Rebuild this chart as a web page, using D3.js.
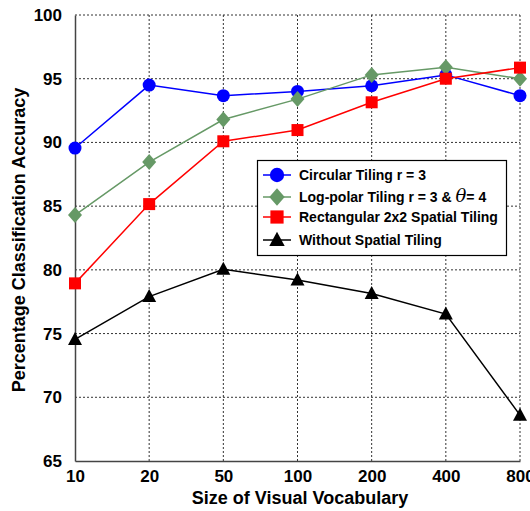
<!DOCTYPE html>
<html><head><meta charset="utf-8">
<script src="https://cdn.jsdelivr.net/npm/d3@7"></script>
<style>body{margin:0;background:#fff}text{font-family:"Liberation Sans",Arial,sans-serif;font-weight:bold}</style>
</head><body><svg id="c" width="530" height="511"></svg>
<script>
const categories = ["10","20","50","100","200","400","800"];
const yTicks = [65,70,75,80,85,90,95,100];
const circular = [89.56,94.5,93.67,94.0,94.45,95.3,93.67];
const logpolar = [84.3,88.46,91.8,93.4,95.3,95.9,95.0];
const rectangular = [78.94,85.16,90.09,90.97,93.15,95.0,95.87];
const without = [74.54,77.9,80.04,79.2,78.15,76.53,68.6];
const seriesNames = ["Circular Tiling r = 3","Log-polar Tiling r = 3 & ","Rectangular 2x2 Spatial Tiling","Without Spatial Tiling"];

const svg = d3.select("#c");
const L=75,R=520,T=15,B=461;
const x = d3.scalePoint().domain(categories).range([L,R]);
const y = d3.scaleLinear().domain([65,100]).range([B,T]);

// grid
const g = svg.append("g");
g.selectAll(".hg").data(yTicks.filter(d=>d>65)).join("line")
 .attr("x1",L).attr("x2",R).attr("y1",d=>y(d)).attr("y2",d=>y(d))
 .attr("stroke","#333").attr("stroke-width",1).attr("stroke-dasharray","2,2");
g.selectAll(".vg").data(categories.slice(1)).join("line")
 .attr("x1",d=>x(d)).attr("x2",d=>x(d)).attr("y1",T).attr("y2",B)
 .attr("stroke","#333").attr("stroke-width",1).attr("stroke-dasharray","2,2");

// axes
const xa = svg.append("g").attr("transform",`translate(0,${B})`).call(d3.axisBottom(x).tickSize(0).tickPadding(10));
xa.select(".domain").attr("stroke","#444").attr("stroke-width",1.5);
xa.selectAll("text").attr("font-size",17).attr("fill","#000").attr("dy","0.71em").attr("y",9);
const ya = svg.append("g").attr("transform",`translate(${L},0)`).call(d3.axisLeft(y).tickValues(yTicks).tickSize(0).tickPadding(13));
ya.select(".domain").attr("stroke","#444").attr("stroke-width",1.5);
ya.selectAll("text").attr("font-size",17).attr("fill","#000");

svg.append("text").attr("x",300).attr("y",504).attr("text-anchor","middle").attr("font-size",18).text("Size of Visual Vocabulary");
svg.append("text").attr("transform","translate(25,240) rotate(-90)").attr("text-anchor","middle").attr("font-size",18).text("Percentage Classification Accuracy");

const series = [
 {name:seriesNames[0],vals:circular,color:"#0000ff",shape:"circle"},
 {name:seriesNames[1],vals:logpolar,color:"#669966",shape:"diamond"},
 {name:seriesNames[2],vals:rectangular,color:"#ff0000",shape:"square"},
 {name:seriesNames[3],vals:without,color:"#000000",shape:"triangle"}
];
function marker(sel,shape,color,s){
 if(shape==="circle") sel.append("circle").attr("r",6.5*s).attr("fill",color);
 else if(shape==="diamond") sel.append("path").attr("d",`M0,${-8*s}L${7*s},0L0,${8*s}L${-7*s},0Z`).attr("fill",color);
 else if(shape==="square") sel.append("rect").attr("x",-6*s).attr("y",-6*s).attr("width",12*s).attr("height",12*s).attr("fill",color);
 else sel.append("path").attr("d",`M0,${-7.5*s}L${7*s},${5.5*s}L${-7*s},${5.5*s}Z`).attr("fill",color);
}
const line = d3.line().x((d,i)=>x(categories[i])).y(d=>y(d));
series.forEach(s=>{
 svg.append("path").attr("d",line(s.vals)).attr("fill","none").attr("stroke",s.color).attr("stroke-width",1.5);
 s.vals.forEach((v,i)=>{
  const m = svg.append("g").attr("transform",`translate(${x(categories[i])},${y(v)})`);
  marker(m,s.shape,s.color,1);
 });
});

// legend
const lg = svg.append("g");
lg.append("rect").attr("x",257.5).attr("y",160.5).attr("width",249).attr("height",95).attr("fill","#fff").attr("stroke","#000").attr("stroke-width",1.2);
const rows=[175,197,217,240];
series.forEach((s,i)=>{
 lg.append("line").attr("x1",263).attr("x2",291).attr("y1",rows[i]).attr("y2",rows[i]).attr("stroke",s.color).attr("stroke-width",1.5);
 const m = lg.append("g").attr("transform",`translate(277,${rows[i]})`);
 marker(m,s.shape,s.color,1.1);
 const t = lg.append("text").attr("x",299).attr("y",rows[i]+5).attr("font-size",14).text(s.name);
 if(i===1){
  t.append("tspan").attr("font-family","'DejaVu Serif',serif").attr("font-style","italic").attr("font-weight","normal").attr("font-size",18).text("θ");
  t.append("tspan").text("= 4");
 }
});
</script></body></html>
